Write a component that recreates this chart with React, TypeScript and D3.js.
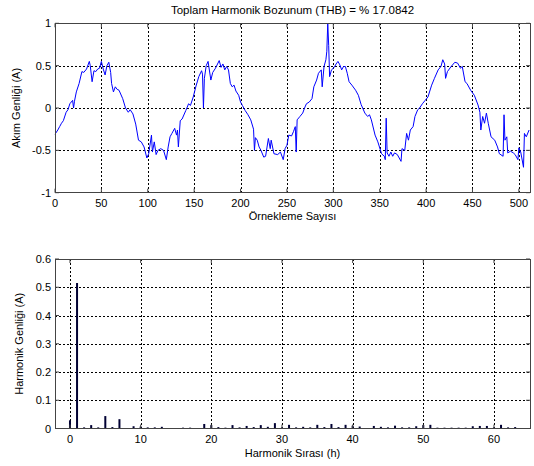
import React from 'react';
import * as d3 from 'd3';

// ---- Top plot: current waveform (sample index, amplitude)
const sampleIdx = [0,3,5,7,9,12,14,16,19,20,21,23,26,29,31,34,37,38,40,42,44,46,48,50,52,54,56,58,60,61,63,65,67,69,73,76,79,81,84,87,90,93,96,99,101,104,105,107,109,111,114,117,120,122,124,126,129,131,132,133,135,137,141,144,146,149,152,155,158,159,160,161,163,165,168,170,173,177,179,181,183,185,187,189,191,193,195,198,200,202,205,208,211,214,215,216,218,220,222,225,227,230,232,233,236,240,243,246,248,250,252,255,257,259,260,261,264,267,269,271,274,277,279,282,284,287,288,290,292,293,294,295,296,298,301,303,305,307,309,311,313,315,317,320,324,327,330,334,337,339,341,345,348,352,355,356,357,358,360,362,364,366,369,373,374,377,379,381,383,386,388,391,393,396,399,402,406,409,413,416,418,420,421,423,427,431,434,437,439,442,444,448,452,456,458,459,461,463,465,467,470,474,477,479,483,484,485,487,488,491,494,496,499,500,502,505,506,508,511];
const currentAmp = [-0.31,-0.26,-0.22,-0.18,-0.15,-0.05,-0.02,0.05,0.09,0.0,0.08,0.19,0.29,0.43,0.42,0.46,0.55,0.5,0.31,0.44,0.43,0.46,0.47,0.55,0.46,0.39,0.5,0.54,0.42,0.29,0.19,0.25,0.22,0.21,0.11,0.0,-0.05,-0.02,-0.07,-0.19,-0.38,-0.40,-0.46,-0.59,-0.54,-0.32,-0.52,-0.40,-0.55,-0.5,-0.48,-0.5,-0.61,-0.46,-0.34,-0.30,-0.24,-0.32,-0.26,-0.46,-0.15,-0.13,-0.03,0.05,0.03,0.13,0.26,0.37,0.44,0.40,0.0,0.35,0.5,0.55,0.33,0.42,0.47,0.56,0.48,0.52,0.45,0.49,0.45,0.29,0.25,0.27,0.20,0.15,0.07,0.03,-0.03,-0.08,-0.14,-0.25,-0.5,-0.35,-0.38,-0.46,-0.50,-0.58,-0.57,-0.36,-0.48,-0.38,-0.54,-0.55,-0.52,-0.61,-0.48,-0.44,-0.32,-0.33,-0.28,-0.22,-0.52,-0.14,-0.1,-0.06,0.0,0.05,0.07,0.11,0.25,0.33,0.41,0.45,0.25,0.49,0.57,0.67,1.0,0.74,0.37,0.45,0.48,0.52,0.55,0.51,0.45,0.49,0.49,0.41,0.31,0.27,0.21,0.15,0.04,-0.06,-0.10,-0.08,-0.14,-0.32,-0.40,-0.54,-0.57,-0.61,-0.12,-0.53,-0.57,-0.52,-0.57,-0.53,-0.55,-0.63,-0.48,-0.5,-0.30,-0.38,-0.26,-0.22,-0.10,-0.02,0.0,0.05,0.09,0.13,0.27,0.35,0.45,0.49,0.57,0.52,0.35,0.43,0.49,0.54,0.53,0.47,0.49,0.31,0.29,0.21,0.15,0.035,-0.05,-0.26,-0.1,-0.18,-0.06,-0.18,-0.34,-0.38,-0.46,-0.54,-0.57,-0.08,-0.38,-0.34,-0.53,-0.51,-0.53,-0.55,-0.61,-0.47,-0.52,-0.7,-0.3,-0.34,-0.26];

// ---- Bottom plot: harmonic spectrum
const harmonicOrder = [0,1,2,3,4,5,6,7,8,9,10,11,12,13,14,15,16,17,18,19,20,21,22,23,24,25,26,27,28,29,30,31,32,33,34,35,36,37,38,39,40,41,42,43,44,45,46,47,48,49,50,51,52,53,54,55,56,57,58,59,60,61,62,63];
const harmonicAmp = [0.029,0.515,0.004,0.012,0.004,0.044,0.005,0.033,0.001,0.008,0.007,0.004,0.004,0.006,0.001,0.001,0.003,0.003,0.001,0.016,0.012,0.005,0.003,0.012,0.004,0.009,0.005,0.012,0.006,0.019,0.004,0.013,0.004,0.006,0.004,0.013,0.005,0.016,0.005,0.013,0.01,0.007,0.001,0.009,0.006,0.004,0.01,0.004,0.004,0.008,0.012,0.013,0.003,0.003,0.003,0.003,0.003,0.008,0.009,0.009,0.004,0.013,0.004,0.005];

const topXTicks = [0,50,100,150,200,250,300,350,400,450,500];
const topYTicks = [-1,-0.5,0,0.5,1];
const botXTicks = [0,10,20,30,40,50,60];
const botYTicks = [0,0.1,0.2,0.3,0.4,0.5,0.6];

const titleText = 'Toplam Harmonik Bozunum (THB) = % 17.0842';

const W = 534, H = 466;
const FONT = 'Liberation Sans, Arial, sans-serif';

const L = 55, R = 530;
const topBox = { t: 23.3, b: 192.7 };
const botBox = { t: 259, b: 428.5 };

export default function App() {
  const xt = d3.scaleLinear().domain([0, 512]).range([L, R]);
  const yt = d3.scaleLinear().domain([-1, 1]).range([topBox.b, topBox.t]);
  const xb = d3.scaleLinear().domain([-2.12, 65.1]).range([L, R]);
  const yb = d3.scaleLinear().domain([0, 0.6]).range([botBox.b, botBox.t]);

  const line = d3.line<number>()
    .x((_, i) => xt(sampleIdx[i]))
    .y((d) => yt(d));

  const grid = { stroke: '#000', strokeWidth: 1, strokeDasharray: '2,2', shapeRendering: 'crispEdges' as const };
  const frame = { fill: 'none', stroke: '#444', strokeWidth: 1, shapeRendering: 'crispEdges' as const };
  const fmtTop = (v: number) => (v === 0 ? '0' : String(v));

  return (
    <svg width={W} height={H} style={{ position: 'absolute', left: 0, top: 0, background: '#fff' }} fontFamily={FONT}>
      <rect x={0} y={0} width={W} height={H} fill="#fff" />
      {/* Title */}
      <text x={(L + R) / 2} y={14} textAnchor="middle" fontSize={11.5} fill="#000">{titleText}</text>

      {/* ---- Top plot ---- */}
      <g>
        {topXTicks.filter((t) => t > 0).map((t) => (
          <line key={'tvx' + t} x1={Math.round(xt(t)) + 0.5} x2={Math.round(xt(t)) + 0.5} y1={topBox.t} y2={topBox.b} {...grid} />
        ))}
        {topYTicks.filter((t) => t > -1 && t < 1).map((t) => (
          <line key={'thy' + t} x1={L} x2={R} y1={Math.round(yt(t)) + 0.5} y2={Math.round(yt(t)) + 0.5} {...grid} />
        ))}
        <path d={line(currentAmp) || ''} fill="none" stroke="#0000ff" strokeWidth={1} strokeLinejoin="round" />
        <rect x={L} y={topBox.t} width={R - L} height={topBox.b - topBox.t} {...frame} />
        {topXTicks.map((t) => (
          <g key={'ttx' + t}>
            <line x1={xt(t)} x2={xt(t)} y1={topBox.b} y2={topBox.b - 4} stroke="#444" />
            <line x1={xt(t)} x2={xt(t)} y1={topBox.t} y2={topBox.t + 4} stroke="#444" />
            <text x={xt(t)} y={topBox.b + 14} textAnchor="middle" fontSize={11} fill="#000">{t}</text>
          </g>
        ))}
        {topYTicks.map((t) => (
          <g key={'tty' + t}>
            <line x1={L} x2={L + 4} y1={yt(t)} y2={yt(t)} stroke="#444" />
            <line x1={R} x2={R - 4} y1={yt(t)} y2={yt(t)} stroke="#444" />
            <text x={L - 4} y={yt(t) + 4} textAnchor="end" fontSize={11} fill="#000">{fmtTop(t)}</text>
          </g>
        ))}
        <text x={(L + R) / 2} y={topBox.b + 27} textAnchor="middle" fontSize={11} fill="#000">Örnekleme Sayısı</text>
        <text transform={`translate(20,${(topBox.t + topBox.b) / 2}) rotate(-90)`} textAnchor="middle" fontSize={11} fill="#000">Akım Genliği (A)</text>
      </g>

      {/* ---- Bottom plot ---- */}
      <g>
        {botXTicks.map((t) => (
          <line key={'bvx' + t} x1={Math.round(xb(t)) + 0.5} x2={Math.round(xb(t)) + 0.5} y1={botBox.t} y2={botBox.b} {...grid} />
        ))}
        {botYTicks.filter((t) => t > 0 && t < 0.6).map((t) => (
          <line key={'bhy' + t} x1={L} x2={R} y1={Math.round(yb(t)) + 0.5} y2={Math.round(yb(t)) + 0.5} {...grid} />
        ))}
        {harmonicOrder.map((h, i) => (
          <rect key={'bar' + h} x={xb(h) - 1} width={2} y={yb(harmonicAmp[i])} height={yb(0) - yb(harmonicAmp[i])} fill="#000033" />
        ))}
        <rect x={L} y={botBox.t} width={R - L} height={botBox.b - botBox.t} {...frame} />
        {botXTicks.map((t) => (
          <g key={'btx' + t}>
            <line x1={xb(t)} x2={xb(t)} y1={botBox.b} y2={botBox.b - 4} stroke="#444" />
            <line x1={xb(t)} x2={xb(t)} y1={botBox.t} y2={botBox.t + 4} stroke="#444" />
            <text x={xb(t)} y={botBox.b + 14} textAnchor="middle" fontSize={11} fill="#000">{t}</text>
          </g>
        ))}
        {botYTicks.map((t) => (
          <g key={'bty' + t}>
            <line x1={L} x2={L + 4} y1={yb(t)} y2={yb(t)} stroke="#444" />
            <line x1={R} x2={R - 4} y1={yb(t)} y2={yb(t)} stroke="#444" />
            <text x={L - 4} y={yb(t) + 4} textAnchor="end" fontSize={11} fill="#000">{t === 0 ? '0' : t.toFixed(1)}</text>
          </g>
        ))}
        <text x={(L + R) / 2} y={botBox.b + 28} textAnchor="middle" fontSize={11} fill="#000">Harmonik Sırası (h)</text>
        <text transform={`translate(23,${(botBox.t + botBox.b) / 2}) rotate(-90)`} textAnchor="middle" fontSize={11} fill="#000">Harmonik Genliği (A)</text>
      </g>
    </svg>
  );
}
